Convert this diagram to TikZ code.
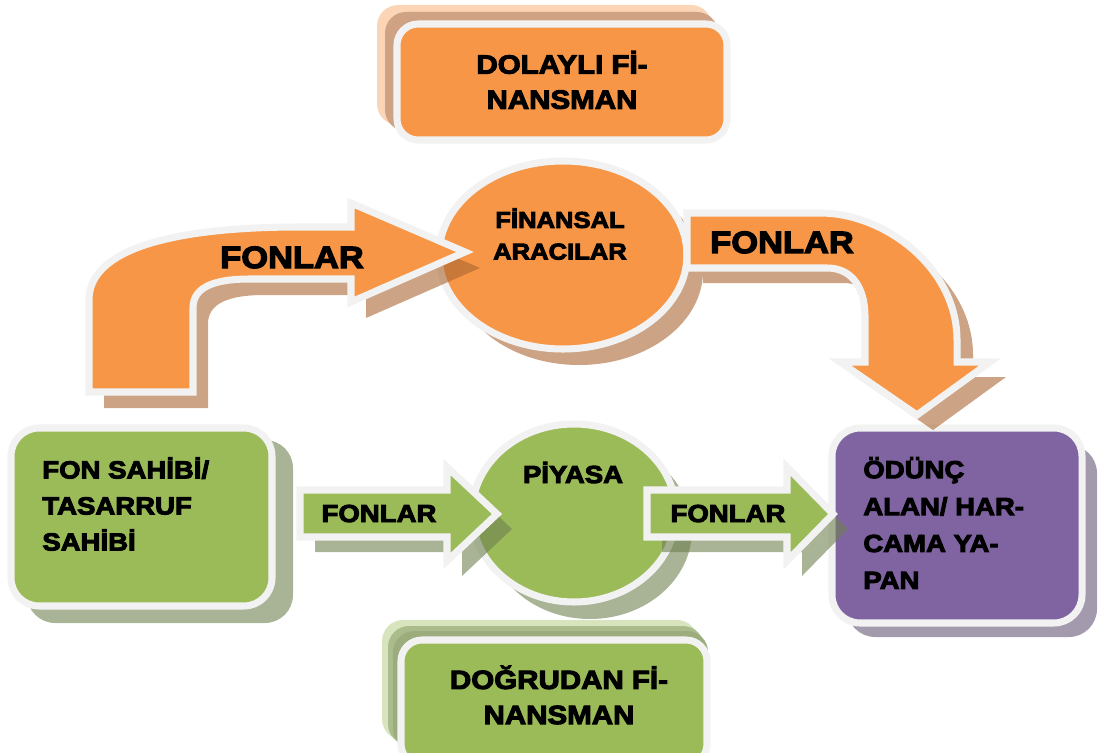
\documentclass[tikz,border=0pt]{standalone}
\usepackage{fontspec}
\setmainfont{Liberation Sans}[BoldFeatures={FakeBold=4,FakeStretch=1.12}]

\definecolor{orng}{HTML}{F79646}
\definecolor{orngdark}{HTML}{AA6632}
\definecolor{grn}{HTML}{9BBB59}
\definecolor{grndark}{HTML}{6F8050}
\definecolor{purp}{HTML}{8064A2}
\definecolor{purpdark}{HTML}{665778}
\definecolor{rim}{HTML}{F2F2F2}
\definecolor{peach}{HTML}{FBD5B5}
\definecolor{tanshade}{HTML}{CEA282}
\definecolor{palegrn}{HTML}{D7E4BD}
\definecolor{sagegrn}{HTML}{ABBC8C}
\definecolor{olivegrn}{HTML}{9CAC7C}

\newcommand{\upleftpath}{(89,392) -- (89,300) .. controls (89,250) and (170,227) .. (300,227)
  -- (351,227) -- (351,203) -- (465,252) -- (351,302) -- (351,279) -- (250,279)
  .. controls (212,279) and (193,288) .. (193,308) -- (193,392) -- cycle}
\newcommand{\uprightpath}{(687,213) -- (820,213) .. controls (885,213) and (957,268) .. (957,340)
  -- (957,362) -- (990,362) -- (917,415) -- (840,362) -- (865,362) -- (865,317)
  .. controls (865,285) and (850,268) .. (827,268) -- (687,268) -- cycle}

\begin{document}
\begin{tikzpicture}[x=0.02cm, y=-0.02cm,
  rimmed/.style={fill=#1, draw=rim, line width=4pt},
  shadow/.style={fill=#1, fill opacity=0.6},
  txt/.style args={#1/#2}{inner sep=0pt, font=\bfseries\fontsize{#1}{#2}\selectfont}]
  \useasboundingbox (0,0) rectangle (1098,753);

  \fill[peach, rounded corners=12pt] (377,5) rectangle (712,125);
  \fill[tanshade, rounded corners=12pt] (385,12) rectangle (718,131);
  \filldraw[rimmed=orng, rounded corners=12pt] (397,24) rectangle (727,140);
  \node[txt=15/20, align=center] (dolayli) at (562,80) {DOLAYLI Fİ-\\NANSMAN};

  \fill[shadow=orngdark] (579,271) ellipse [x radius=124, y radius=94];
  \filldraw[rimmed=orng] (563,255) ellipse [x radius=124, y radius=94];
  \node[txt=13/18, align=center] (aracilar) at (560,234) {FİNANSAL\\ARACILAR};

  \fill[shadow=grndark, rounded corners=16pt] (27,440) rectangle (293,623);
  \filldraw[rimmed=grn, rounded corners=16pt] (11,428) rectangle (272,606);
  \node[txt=14/20.5, align=left, anchor=west] (fonsahibi) at (42,504) {FON SAHİBİ/\\TASARRUF\\SAHİBİ};

  \fill[shadow=purpdark, rounded corners=16pt] (847,445) rectangle (1097,637);
  \filldraw[rimmed=purp, rounded corners=16pt] (832,428) rectangle (1082,623);
  \node[txt=14/21, align=left, anchor=west] (odunc) at (863,523) {ÖDÜNÇ\\ALAN/ HAR-\\CAMA YA-\\PAN};

  \fill[shadow=grndark] (590,530) ellipse [x radius=102, y radius=89];
  \filldraw[rimmed=grn] (574,513) ellipse [x radius=102, y radius=89];
  \node[txt=14/14, anchor=base] (piyasa) at (573,483) {PİYASA};

  \fill[palegrn, rounded corners=12pt] (382,620) rectangle (698,740);
  \fill[sagegrn, rounded corners=12pt] (388,626) rectangle (704,745);
  \fill[olivegrn, rounded corners=12pt] (393,631) rectangle (708,750);
  \filldraw[rimmed=grn, rounded corners=12pt] (401,640) rectangle (707,765);
  \node[txt=15/20, align=center] (dogrudan) at (559,695) {DOĞRUDAN Fİ-\\NANSMAN};

  \fill[shadow=orngdark, shift={(15,16)}] \upleftpath;
  \filldraw[rimmed=orng] \upleftpath;
  \node[txt=17.5/17.5, anchor=base] (fonlarA) at (292,268) {FONLAR};

  \fill[shadow=orngdark, shift={(16,15)}] \uprightpath;
  \filldraw[rimmed=orng] \uprightpath;
  \node[txt=17.5/17.5, anchor=base] (fonlarB) at (782,253) {FONLAR};

  \foreach \ax/\hx/\tx [count=\i] in {300/447/497, 647/787/833} {
    \fill[shadow=grndark, shift={(15,15)}] (\ax,490) -- (\hx,490) -- (\hx,467) -- (\tx,514)
      -- (\hx,561) -- (\hx,537) -- (\ax,537) -- cycle;
    \filldraw[rimmed=grn] (\ax,490) -- (\hx,490) -- (\hx,467) -- (\tx,514)
      -- (\hx,561) -- (\hx,537) -- (\ax,537) -- cycle;
  }
  \node[txt=14/14, anchor=base] (fonlarC) at (379,522) {FONLAR};
  \node[txt=14/14, anchor=base] (fonlarD) at (728,522) {FONLAR};
\end{tikzpicture}
\end{document}
